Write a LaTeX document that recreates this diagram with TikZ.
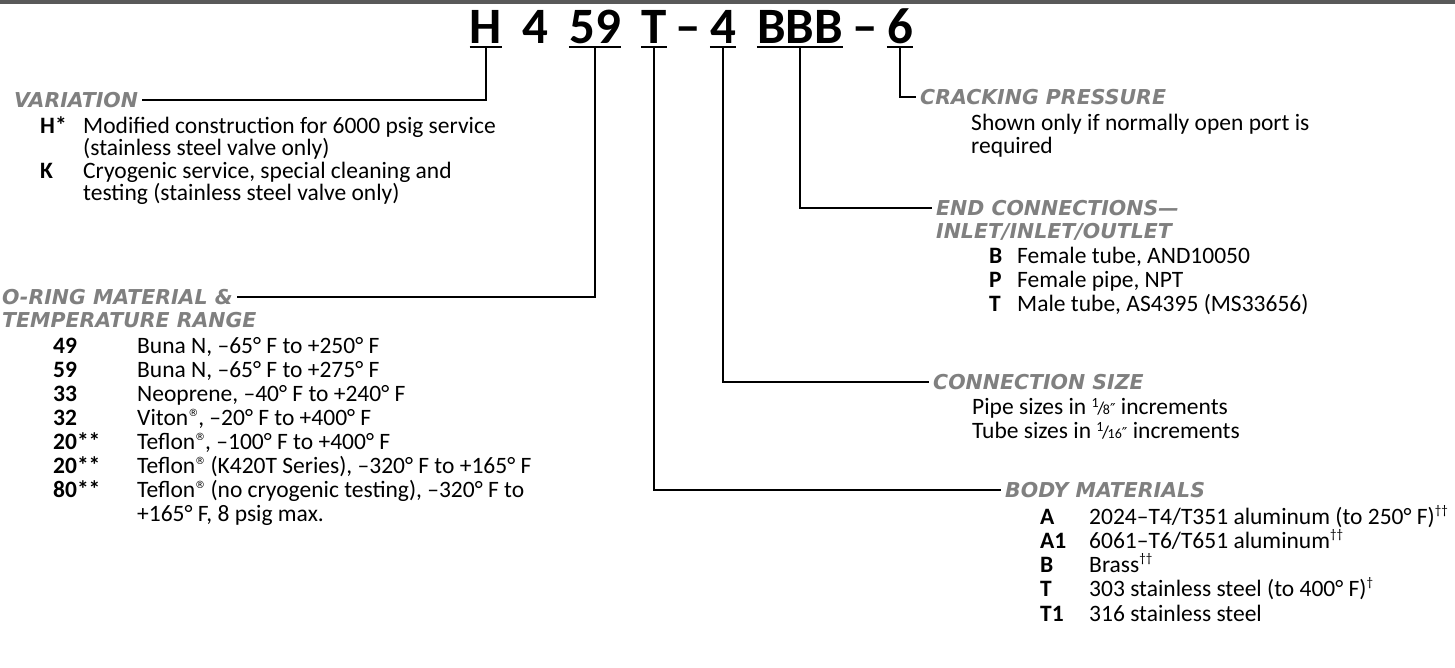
\documentclass[tikz,border=0pt]{standalone}
\usepackage{fontspec}
\setmainfont{Carlito}
\newfontfamily\simbolos{DejaVu Sans}
\newfontfamily\rotulos{DejaVu Sans}
\usetikzlibrary{positioning}

\definecolor{grisTitulo}{HTML}{808080}
\definecolor{grisBarra}{HTML}{595959}

% fraccion pequena con comillas de pulgada
\newcommand{\fraccion}[2]{\raisebox{0.6ex}{\fontsize{14}{14}\selectfont #1}\kern-0.06em{\fontsize{18}{18}\selectfont /}\kern-0.06em{\fontsize{14}{14}\selectfont #2}{\simbolos\fontsize{15}{15}\selectfont ″}}
\newcommand{\marca}{\raisebox{0.75ex}{\simbolos\fontsize{10}{10}\selectfont ®}}
\newcommand{\cruz}[1]{\textsuperscript{\fontsize{13}{13}\selectfont #1}}

\tikzset{
  titulo/.style={font=\fontsize{51}{51}\selectfont\bfseries, inner sep=0pt, text depth=4pt, anchor=base},
  encabezado/.style={font=\rotulos\fontsize{20.5}{22}\selectfont\bfseries\itshape, text=grisTitulo,
    inner xsep=4pt, inner ysep=0pt, text height=15pt, text depth=0pt, anchor=west},
  codigo/.style={font=\fontsize{23.5}{26}\selectfont\bfseries, inner sep=0pt, anchor=base west},
  texto/.style={font=\fontsize{23.5}{26}\selectfont, inner sep=0pt, anchor=base west},
  guia/.style={line width=1.3pt},
  subraya/.style={line width=2.5pt}
}

\begin{document}
\begin{tikzpicture}[x=1pt,y=-1pt]
  \useasboundingbox (0,0) rectangle (1455,667);
  % Barra superior
  \fill[grisBarra] (0,0) rectangle (1455,4);

  % Codigo del modelo
  \node[titulo] (tH) at (486,43) {H};
  \node[titulo] (tCuatroA) at (535.5,43) {4};
  \node[titulo] (t59) at (595,43) {59};
  \node[titulo] (tT) at (654,43) {T};
  \node[titulo] (tGuion1) at (688.5,43) {–};
  \node[titulo] (tCuatro) at (723,43) {4};
  \node[titulo] (tBBB) at (800,43) {BBB};
  \node[titulo] (tGuion2) at (865,43) {–};
  \node[titulo] (t6) at (900,43) {6};
  \foreach \n in {tH,t59,tT,tCuatro,tBBB,t6}
    \draw[subraya] (\n.south west) -- (\n.south east);

  % Variacion
  \node[encabezado] (hVar) at (10,100) {VARIATION};
  \node[codigo] (cH) at (40,133) {H*};
  \node[texto] (dH1) at (83,133) {Modified construction for 6000 psig service};
  \node[texto] (dH2) at (83,155.5) {(stainless steel valve only)};
  \node[codigo] (cK) at (40,178) {K};
  \node[texto] (dK1) at (83,178) {Cryogenic service, special cleaning and};
  \node[texto] (dK2) at (83,200.5) {testing (stainless steel valve only)};

  % Material de la junta torica
  \node[encabezado] (hRing) at (-2,297) {O-RING MATERIAL \&};
  \node[encabezado] (hRing2) at (-2,320) {TEMPERATURE RANGE};
  \foreach \c/\d [count=\i from 0] in {
      49/{Buna N, –65° F to +250° F},
      59/{Buna N, –65° F to +275° F},
      33/{Neoprene, –40° F to +240° F},
      32/{Viton\marca, –20° F to +400° F},
      20**/{Teflon\marca, –100° F to +400° F},
      20**/{Teflon\marca\ (K420T Series), –320° F to +165° F},
      80**/{Teflon\marca\ (no cryogenic testing), –320° F to}} {
    \node[codigo] (cRing\i) at (53,353+24*\i) {\c};
    \node[texto] (dRing\i) at (137,353+24*\i) {\d};
  }
  \node[texto] (dRing7) at (137,521) {+165° F, 8 psig max.};

  % Presion de apertura
  \node[encabezado] (hCrack) at (916,97) {CRACKING PRESSURE};
  \node[texto] (dCrack1) at (971,130) {Shown only if normally open port is};
  \node[texto] (dCrack2) at (971,153) {required};

  % Conexiones de los extremos
  \node[encabezado] (hEnd) at (932,208) {END CONNECTIONS—};
  \node[encabezado] (hEnd2) at (932,231) {INLET/INLET/OUTLET};
  \node[codigo] (cEndB) at (989,263) {B};
  \node[texto] (dEndB) at (1017,263) {Female tube, AND10050};
  \node[codigo] (cEndP) at (989,287) {P};
  \node[texto] (dEndP) at (1017,287) {Female pipe, NPT};
  \node[codigo] (cEndT) at (989,311) {T};
  \node[texto] (dEndT) at (1017,311) {Male tube, AS4395 (MS33656)};

  % Tamano de conexion
  \node[encabezado] (hSize) at (929,382) {CONNECTION SIZE};
  \node[texto] (dSize1) at (972,414) {Pipe sizes in \fraccion{1}{8} increments};
  \node[texto] (dSize2) at (972,438) {Tube sizes in \fraccion{1}{16} increments};

  % Materiales del cuerpo
  \node[encabezado] (hBody) at (1001,490) {BODY MATERIALS};
  \node[codigo] (cBodyA) at (1040,524) {A};
  \node[texto] (dBodyA) at (1089,524) {2024–T4/T351 aluminum (to 250° F)\cruz{††}};
  \node[codigo] (cBodyA1) at (1040,548) {A1};
  \node[texto] (dBodyA1) at (1089,548) {6061–T6/T651 aluminum\cruz{††}};
  \node[codigo] (cBodyB) at (1040,572) {B};
  \node[texto] (dBodyB) at (1089,572) {Brass\cruz{††}};
  \node[codigo] (cBodyT) at (1040,596) {T};
  \node[texto] (dBodyT) at (1089,596) {303 stainless steel (to 400° F)\cruz{†}};
  \node[codigo] (cBodyT1) at (1040,621) {T1};
  \node[texto] (dBodyT1) at (1089,621) {316 stainless steel};

  % Lineas guia
  \draw[guia] (tH.south) |- (hVar.east);
  \draw[guia] (t59.south) |- (hRing.east);
  \draw[guia] (t6.south) |- (hCrack.west);
  \draw[guia] (tBBB.south) |- (hEnd.west);
  \draw[guia] (tCuatro.south) |- (hSize.west);
  \draw[guia] (tT.south) |- (hBody.west);
\end{tikzpicture}
\end{document}
